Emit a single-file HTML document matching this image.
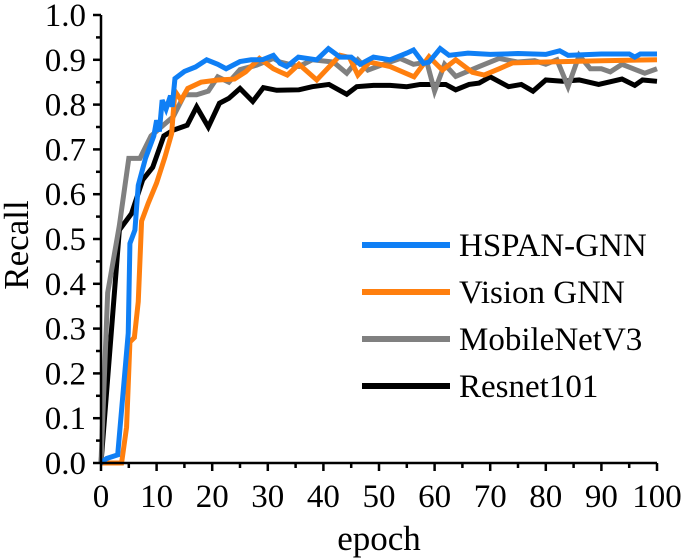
<!DOCTYPE html>
<html><head><meta charset="utf-8"><style>
html,body{margin:0;padding:0;background:#fff;}
svg{display:block;font-family:"Liberation Serif",serif;}
</style></head><body>
<svg id="chart" width="685" height="558"></svg>
<script>
const hspanX=[0,1,3,4.9,5.2,6.1,6.7,8,9.5,10,10.5,11,11.7,12.5,12.8,13.3,15,17,19,21,22.5,25,27,29,31,32.2,33.4,35.5,38.8,40.9,43,45,46.6,49,52,55,56.2,58,59,61,62.6,66,70,75,80,82.5,84,90,95,96,97,100];
const hspanY=[0,0.01,0.018,0.29,0.49,0.52,0.62,0.68,0.73,0.765,0.74,0.81,0.79,0.82,0.795,0.858,0.874,0.884,0.9,0.89,0.88,0.896,0.9,0.9,0.91,0.892,0.885,0.906,0.9,0.925,0.906,0.906,0.89,0.906,0.9,0.915,0.922,0.892,0.895,0.925,0.91,0.915,0.912,0.914,0.912,0.92,0.91,0.913,0.913,0.906,0.913,0.913];
const visionX=[0,3.7,4.6,5.2,6,6.7,7.3,8.5,10,11.5,12.7,13.3,14.4,15.6,18,21,24,26,28.5,31,32.2,33.5,35.6,38.8,43,44.7,46.2,48.3,52,56.3,59,61.4,63.8,66.8,68.9,71.6,74,80,90,100];
const visionY=[0,0,0.08,0.27,0.28,0.36,0.54,0.58,0.625,0.683,0.735,0.83,0.81,0.836,0.85,0.855,0.857,0.873,0.903,0.88,0.873,0.866,0.89,0.855,0.91,0.905,0.866,0.895,0.885,0.862,0.907,0.877,0.9,0.872,0.866,0.88,0.893,0.895,0.898,0.9];
const mobileX=[0,1.2,3.3,5,7,9,11.3,13,15,17.2,19.3,21,23,25,28,31,32.2,35.6,38,41.8,44.2,46.2,48,50.8,53.8,56.2,58.6,60,61.8,63.8,68,71.6,75,78,80,82,84,86,88,90,91.6,93.7,97.8,100];
const mobileY=[0,0.38,0.53,0.68,0.68,0.73,0.755,0.773,0.822,0.822,0.83,0.862,0.85,0.878,0.888,0.903,0.895,0.885,0.9,0.895,0.87,0.9,0.877,0.89,0.903,0.89,0.895,0.83,0.89,0.863,0.885,0.903,0.895,0.898,0.89,0.9,0.84,0.91,0.88,0.88,0.873,0.89,0.87,0.88];
const resnetX=[0,3.3,5.5,7.5,9.3,11.3,13,15.5,17.2,19.3,21.3,23,25,27.3,29.2,31.6,35.6,38,41,44.2,46,49,52,55,57.4,62,63.8,66.2,68,70,73.3,75.6,77.7,80,83,86,89.5,93.7,96,97.4,100];
const resnetY=[0,0.52,0.557,0.632,0.66,0.73,0.743,0.754,0.795,0.75,0.803,0.814,0.836,0.807,0.838,0.832,0.833,0.84,0.845,0.823,0.84,0.843,0.843,0.84,0.845,0.845,0.833,0.845,0.848,0.862,0.84,0.845,0.83,0.855,0.852,0.855,0.845,0.857,0.843,0.855,0.852];
const xTicks=[0,10,20,30,40,50,60,70,80,90,100];
const yTicks=[0,0.1,0.2,0.3,0.4,0.5,0.6,0.7,0.8,0.9,1.0];
const seriesNames=["HSPAN-GNN","Vision GNN","MobileNetV3","Resnet101"];

const NS="http://www.w3.org/2000/svg";
const svg=document.getElementById('chart');
const X0=101,X1=657,Y0=463,Y1=15;
const sx=v=>X0+(v/100)*(X1-X0);
const sy=v=>Y0-(v/1.0)*(Y0-Y1);
function mk(tag,attrs){const e=document.createElementNS(NS,tag);for(const k in attrs)e.setAttribute(k,attrs[k]);svg.appendChild(e);return e;}

const series=[[hspanX,hspanY,"#0f7ff5"],[visionX,visionY,"#ff7f0e"],[mobileX,mobileY,"#808080"],[resnetX,resnetY,"#000000"]];
const order=[3,2,1,0];
order.forEach(i=>{
  const [xs,ys,c]=series[i];
  const p=mk('polyline',{points:xs.map((x,j)=>sx(x)+','+sy(ys[j])).join(' '),fill:'none',stroke:c,'stroke-width':5,'stroke-linejoin':'miter'});
  
  
});

const ax=mk('line',{x1:X0,y1:Y0+1,x2:X0,y2:Y1,stroke:'#000','stroke-width':2.5});


const axx=mk('line',{x1:X0-1,y1:Y0,x2:X1,y2:Y0,stroke:'#000','stroke-width':2.5});


for(let v=0;v<=100;v+=5){
  const t=mk('line',{x1:sx(v),y1:Y0,x2:sx(v),y2:Y0+(v%10===0?8:5),stroke:'#000','stroke-width':2.5});
  
  
}
for(let k=0;k<=20;k++){
  const v=k*0.05;
  const t=mk('line',{x1:X0,y1:sy(v),x2:X0-(k%2===0?8:5),y2:sy(v),stroke:'#000','stroke-width':2.5});
  
  
}
xTicks.forEach(v=>{
  const t=mk('text',{x:sx(v),y:507,'font-size':33,'text-anchor':'middle'});t.textContent=v;
  
  
});
yTicks.forEach(v=>{
  const t=mk('text',{x:86,y:sy(v)+11,'font-size':33,'text-anchor':'end'});t.textContent=v.toFixed(1);
  
  
});
const xt=mk('text',{x:379,y:550,'font-size':35,'text-anchor':'middle'});xt.textContent='epoch';


const yt=mk('text',{x:0,y:0,'font-size':35,'text-anchor':'middle',transform:'translate(28,245) rotate(-90)'});yt.textContent='Recall';



seriesNames.forEach((n,i)=>{
  const y=245+i*47;
  const l=mk('line',{x1:362,y1:y,x2:450,y2:y,stroke:series[i][2],'stroke-width':6});
  
  
  const t=mk('text',{x:459,y:y+11,'font-size':33});t.textContent=n;
  
  
});
</script>
</body></html>
